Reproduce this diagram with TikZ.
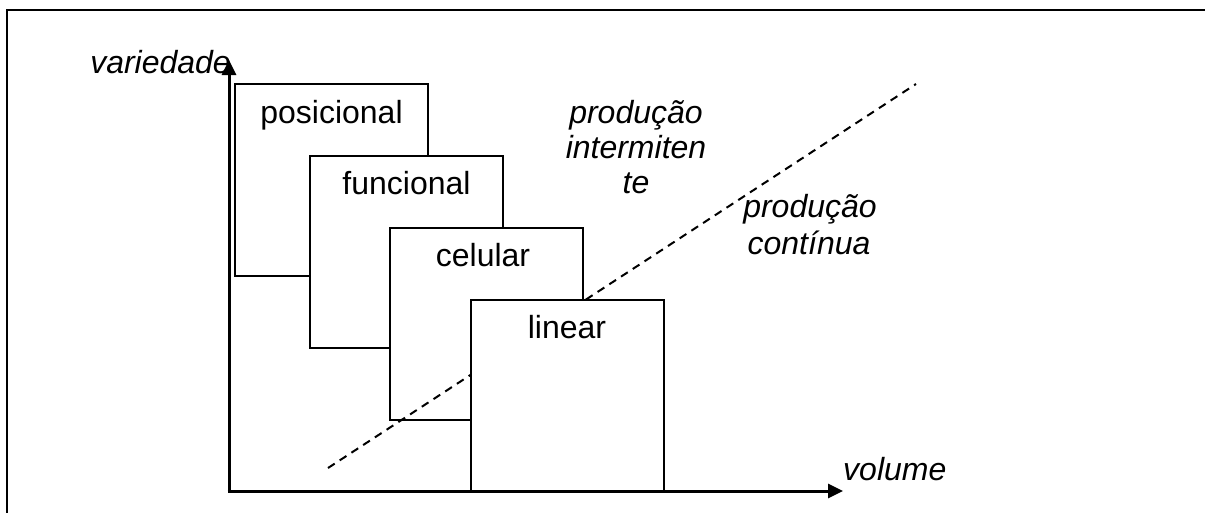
\documentclass[tikz,border=0pt]{standalone}
\usepackage{fontspec}
\setmainfont{Liberation Sans}
\usetikzlibrary{arrows.meta}
\begin{document}
\begin{tikzpicture}[x=1pt,y=-1pt,
  frameline/.style={line width=2pt},
  axisline/.style={line width=3pt,-{Triangle[length=15pt,width=14pt]}},
  stagebox/.style={draw,line width=2pt,fill=white,rectangle,inner sep=0pt,
    minimum width=193pt,minimum height=192pt},
  boxtext/.style={inner sep=0pt,anchor=base,font=\fontsize{32}{38}\selectfont},
  note/.style={inner sep=0pt,font=\fontsize{32}{38}\selectfont\itshape,align=center},
  divider/.style={line width=2pt,dash pattern=on 8pt off 6pt}]
\useasboundingbox (0,0) rectangle (1205,512);

% outer frame (only top and left edges fall inside the page)
\draw[frameline] (1206,10) -- (7,10) -- (7,513);

% the four layouts, each overlapping the previous one
\node[stagebox] (pos) at (331.5,179.5) {};
\node[stagebox] (fun) at (406.5,252) {};
\node[stagebox] (cel) at (486,324) {};

% boundary between intermittent and continuous production
\coordinate (dA) at (328,468);
\coordinate (dB) at (916,84);
\draw[divider] (dA) -- (dB);

\node[stagebox,minimum height=191pt] (lin) at (567,395.5) {};

\node[boxtext] (tpos) at ([yshift=-41pt]pos.north) {posicional};
\node[boxtext] (tfun) at ([yshift=-39pt]fun.north) {funcional};
\node[boxtext] (tcel) at ([yshift=-39pt,xshift=-3pt]cel.north) {celular};
\node[boxtext] (tlin) at ([yshift=-39pt]lin.north) {linear};

% axes
\coordinate (O) at (229,491);
\coordinate (ytip) at (229,60);
\coordinate (xtip) at (843,491);
\draw[axisline] (O) -- (ytip);
\draw[axisline] ([xshift=-1.5pt]O) -- (xtip);

\node[note,anchor=base east] (yl) at (231,73) {variedade};
\node[note,anchor=base west] (xl) at (843,480) {volume};

\node[note,anchor=base] (pi1) at (636,123) {produção};
\node[note,anchor=base] (pi2) at (636,158) {intermiten};
\node[note,anchor=base] (pi3) at (636,193) {te};

\node[note,anchor=base] (pc1) at (810,217) {produção};
\node[note,anchor=base] (pc2) at (809,254) {contínua};
\end{tikzpicture}
\end{document}
